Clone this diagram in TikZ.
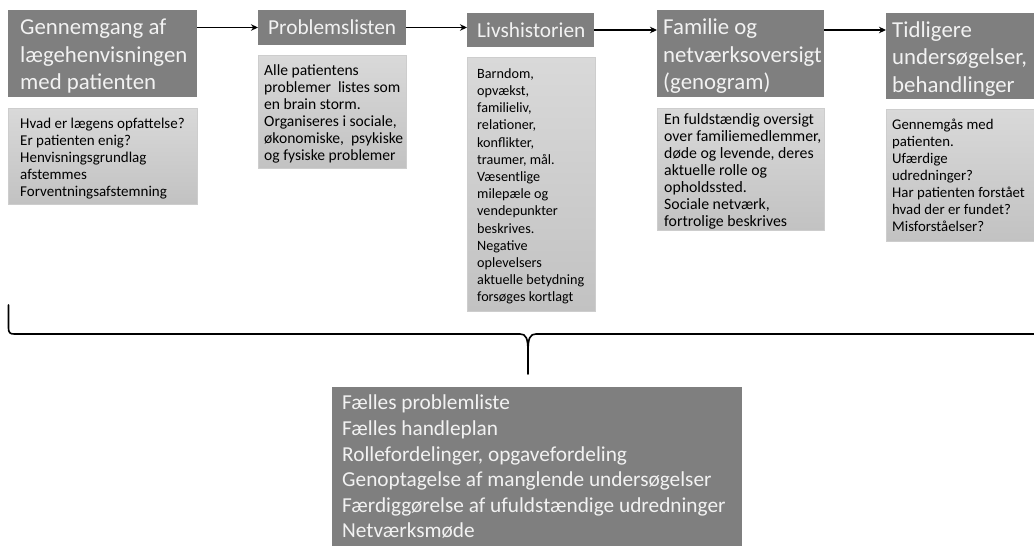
\documentclass[tikz,border=0pt]{standalone}
\usepackage{fontspec}
\setmainfont{Carlito}
\usetikzlibrary{arrows.meta}
\definecolor{hdrgray}{RGB}{127,127,127}
\definecolor{hdrtext}{RGB}{242,242,242}
\definecolor{boxtop}{RGB}{217,217,217}
\definecolor{boxbot}{RGB}{194,194,194}
\definecolor{boxedge}{RGB}{205,205,205}
\begin{document}
\begin{tikzpicture}[x=1pt,y=-1pt,
  hdrbox/.style={rectangle, fill=hdrgray, inner sep=0pt, outer sep=0pt, anchor=north west},
  notebox/.style={rectangle, top color=boxtop, bottom color=boxbot, draw=boxedge,
    line width=0.8pt, inner sep=0pt, outer sep=0pt, anchor=north west},
  hdrtxt/.style={text=hdrtext, font=\fontsize{22.8}{27.5}\selectfont, align=left,
    inner sep=0pt, anchor=west},
  hdrone/.style={text=hdrtext, font=\fontsize{21.3}{26}\selectfont, align=left,
    inner sep=0pt, anchor=west},
  notetxt/.style={text=black, align=left, inner sep=0pt, anchor=west},
  flow/.style={line width=1.3pt, -{Stealth[length=7pt,width=6.5pt]}},
  brace/.style={line width=1.6pt, line cap=round, line join=round},
]
\clip (0,0) rectangle (1034,546);

% step headers
\node[hdrbox, minimum width=189pt, minimum height=87pt] (h1) at (8,10) {};
\node[hdrbox, minimum width=148pt, minimum height=35pt] (h2) at (258,10) {};
\node[hdrbox, minimum width=127pt, minimum height=34pt] (h3) at (467,13) {};
\node[hdrbox, minimum width=167pt, minimum height=87pt] (h4) at (657,10) {};
\node[hdrbox, minimum width=160pt, minimum height=86pt] (h5) at (886,13) {};

\node[hdrtxt] (h1t) at ([xshift=12pt,yshift=-3pt]h1.west) {Gennemgang af\\lægehenvisningen\\med patienten};
\node[hdrone] (h2t) at ([xshift=10pt]h2.west) {Problemslisten};
\node[hdrone] (h3t) at ([xshift=10pt]h3.west) {Livshistorien};
\node[hdrtxt] (h4t) at ([xshift=6pt,yshift=-3pt]h4.west) {Familie og\\netværksoversigt\\(genogram)};
\node[hdrtxt] (h5t) at ([xshift=6pt,yshift=-3pt]h5.west) {Tidligere\\undersøgelser,\\behandlinger};

% notes under each step
\node[notebox, minimum width=189pt, minimum height=96pt] (n1) at (8,108) {};
\node[notebox, minimum width=148pt, minimum height=113pt] (n2) at (258,55) {};
\node[notebox, minimum width=128pt, minimum height=254pt] (n3) at (467,57) {};
\node[notebox, minimum width=167pt, minimum height=122pt] (n4) at (657,108) {};
\node[notebox, minimum width=160pt, minimum height=132pt] (n5) at (886,109) {};

\node[notetxt, font=\fontsize{15}{17}\selectfont] (n1t) at ([xshift=12pt,yshift=-2.3pt]n1.west)
  {Hvad er lægens opfattelse?\\Er patienten enig?\\Henvisningsgrundlag\\afstemmes\\Forventningsafstemning};
\node[notetxt, font=\fontsize{15.6}{17}\selectfont] (n2t) at ([xshift=6pt,yshift=-2.3pt]n2.west)
  {Alle patientens\\problemer~ listes som\\en brain storm.\\Organiseres i sociale,\\økonomiske,~ psykiske\\og fysiske problemer};
\node[notetxt, font=\fontsize{14.2}{17.2}\selectfont] (n3t) at ([xshift=10pt,yshift=-2.3pt]n3.west)
  {Barndom,\\opvækst,\\familieliv,\\relationer,\\konflikter,\\traumer, mål.\\Væsentlige\\milepæle og\\vendepunkter\\beskrives.\\Negative\\oplevelsers\\aktuelle betydning\\forsøges kortlagt};
\node[notetxt, font=\fontsize{15.8}{17}\selectfont] (n4t) at ([xshift=7pt,yshift=-2.3pt]n4.west)
  {En fuldstændig oversigt\\over familiemedlemmer,\\døde og levende, deres\\aktuelle rolle og\\opholdssted.\\Sociale netværk,\\fortrolige beskrives};
\node[notetxt, font=\fontsize{14.8}{17}\selectfont] (n5t) at ([xshift=6pt,yshift=-0.6pt]n5.west)
  {Gennemgås med\\patienten.\\Ufærdige\\udredninger?\\Har patienten forstået\\hvad der er fundet?\\Misforståelser?};

% flow between steps
\draw[flow] (h1.east |- h2.west) -- (h2.west);
\draw[flow] (h2.east) -- (h3.west |- h2.east);
\draw[flow] (h3.east) -- (h4.west |- h3.east);
\draw[flow] (h4.east |- h3.east) -- (h5.west |- h3.east);

% brace gathering all steps
\draw[brace] (8.5,305) -- (8.5,328) .. controls (8.5,332.5) and (10,334) .. (14,334)
  -- (520,334) .. controls (526,334) and (528,338) .. (528,352) -- (528,374);
\draw[brace] (528,352) .. controls (528,338) and (530,334) .. (536,334)
  -- (1042,334) .. controls (1046,334) and (1047.5,332.5) .. (1047.5,328) -- (1047.5,305);

% joint outcome
\node[hdrbox, minimum width=410pt, minimum height=170pt] (res) at (332,387) {};
\node[text=hdrtext, font=\fontsize{21.3}{25.6}\selectfont, align=left, inner sep=0pt,
  anchor=north west] (rest) at ([xshift=10pt,yshift=-8pt]res.north west)
  {Fælles problemliste\\Fælles handleplan\\Rollefordelinger, opgavefordeling\\Genoptagelse af manglende undersøgelser\\Færdiggørelse af ufuldstændige udredninger\\Netværksmøde};
\end{tikzpicture}
\end{document}
